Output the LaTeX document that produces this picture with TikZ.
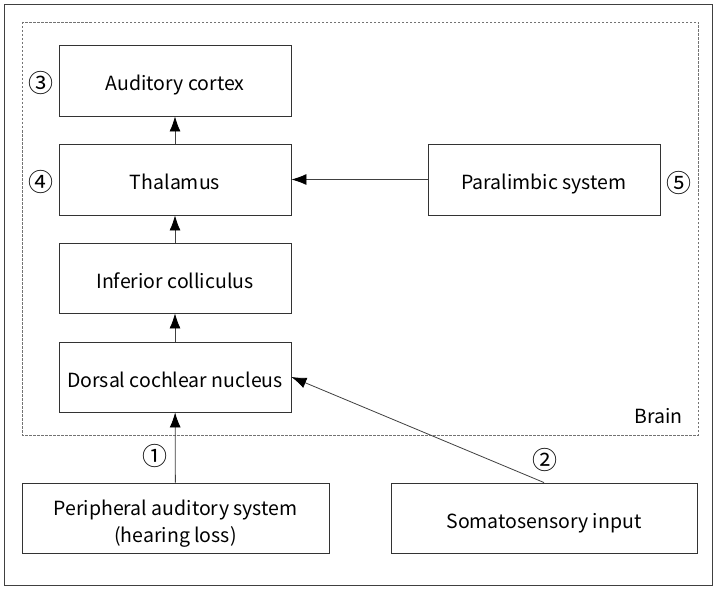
\documentclass[tikz,border=0pt]{standalone}
\usepackage{fontspec}
\setmainfont{Noto Sans CJK KR}
\usetikzlibrary{arrows.meta}
\begin{document}
\begin{tikzpicture}[x=1pt,y=-1pt,
  frame/.style={draw=black!80,line width=0.9pt,inner sep=0pt},
  box/.style={frame,align=center,font=\fontsize{19.5}{27}\selectfont,text height=20pt,text depth=0pt},
  txt/.style={inner sep=0pt,align=center,font=\fontsize{19.5}{27}\selectfont},
  lbl/.style={inner sep=0pt,font=\fontsize{25}{28}\selectfont},
  brainlbl/.style={inner sep=0pt,font=\fontsize{19.5}{22}\selectfont},
  arr/.style={line width=0.8pt,draw=black!75,-{Latex[length=15pt,width=11pt,black]}}]
\useasboundingbox (0,0) rectangle (717,591);
\fill[white] (0,0) rectangle (717,591);
\draw[black!75,line width=0.9pt] (4,4) rectangle (712,585);
\draw[black!55,line width=0.9pt,dash pattern=on 2.5pt off 1.5pt] (22,22) rectangle (698,435);
\node[box,minimum width=232pt,minimum height=71pt] (ac) at (175,80.5) {Auditory cortex};
\node[box,minimum width=232pt,minimum height=71pt] (th) at (175,179.5) {Thalamus};
\node[box,minimum width=232pt,minimum height=70pt] (ic) at (175,278) {Inferior colliculus};
\node[box,minimum width=232pt,minimum height=70pt] (dc) at (175,377) {Dorsal cochlear nucleus};
\node[box,minimum width=232pt,minimum height=71pt] (pl) at (544,179.5) {Paralimbic system};
\node[frame,minimum width=307pt,minimum height=70pt] (pa) at (175.5,518) {};
\node[txt] (patxt) at ([yshift=-6pt]pa.center) {Peripheral auditory system\\(hearing loss)};
\node[box,minimum width=306pt,minimum height=70pt] (so) at (544,518) {Somatosensory input};
\draw[arr] (th) -- (ac);
\draw[arr] (ic) -- (th);
\draw[arr] (dc) -- (ic);
\draw[arr] (pa) -- (dc);
\draw[arr] (pl) -- (th);
\draw[arr] (so.north) -- (dc.east);
\node[lbl] (n3) at (41,83) {③};
\node[lbl] (n4) at (41,182) {④};
\node[lbl] (n5) at (679,183) {⑤};
\node[lbl] (n1) at (155,456) {①};
\node[lbl] (n2) at (545,460) {②};
\node[brainlbl,anchor=base east] (brain) at (683,423) {Brain};
\end{tikzpicture}
\end{document}
